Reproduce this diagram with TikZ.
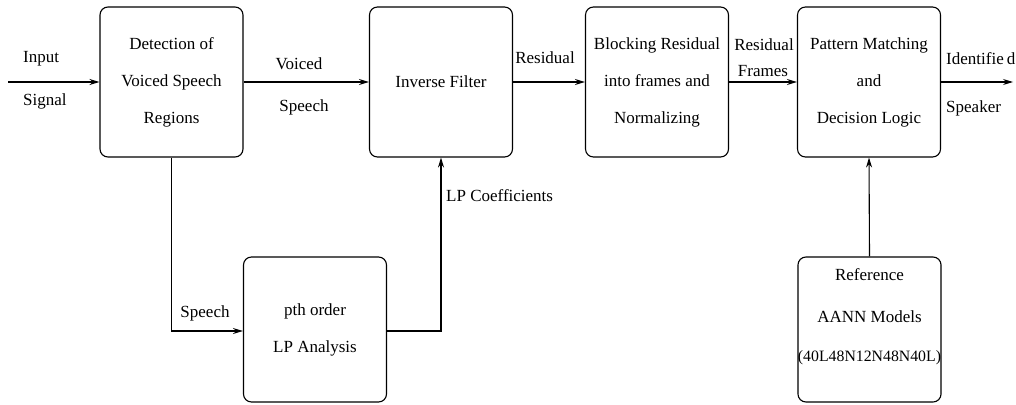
\documentclass[tikz,border=0pt]{standalone}
\usepackage{fontspec}
\setmainfont{Liberation Serif}
\usetikzlibrary{arrows.meta}
\begin{document}
\begin{tikzpicture}[x=1pt,y=-1pt,
  blk/.style={draw,line width=1.1pt,rounded corners=8pt,minimum width=143pt,align=center,inner sep=0pt,
    font=\fontsize{17}{37}\selectfont},
  lbl/.style={inner sep=0pt,font=\fontsize{17}{20}\selectfont},
  conn/.style={line width=1.1pt,-{Stealth[length=10pt,width=6pt]}},
  wire/.style={line width=1.1pt}]
\useasboundingbox (0,0) rectangle (1016,404);
\node[blk,minimum height=150pt] (det) at (171.5,82) {Detection of\\Voiced Speech\\Regions};
\node[blk,minimum height=150pt] (inv) at (441,82) {Inverse Filter};
\node[blk,minimum height=150pt] (blkr) at (657,82) {Blocking Residual\\into frames and\\Normalizing};
\node[blk,minimum height=150pt] (pat) at (869,82) {Pattern Matching\\and\\Decision Logic};
\node[blk,minimum height=145pt] (lpa) at (315,329.5) {pth order\\LP Analysis};
\node[blk,minimum height=145pt,font=\fontsize{17}{42}\selectfont] (ref) at (869.5,329.5) {Reference\\AANN Models\\[-3pt]{\fontsize{15.8}{18}\selectfont(40L48N12N48N40L)}\\[-25pt]\strut};
\coordinate (in) at (8,82);
\coordinate (out) at (1013,82);
\coordinate (c1) at (171.5,331);
\coordinate (c2) at (441,331);
\draw[conn] (in) -- (det.west);
\draw[conn] (det.east) -- (inv.west);
\draw[conn] (inv.east) -- (blkr.west);
\draw[conn] (blkr.east) -- (pat.west);
\draw[conn] (pat.east) -- (out);
\draw[conn] (det.south) -- (c1) -- (lpa.west |- c1);
\draw[conn] (lpa.east |- c2) -- (c2) -- (inv.south);
\draw[conn] (ref.north) -- (pat.south);
\node[lbl,anchor=west] (tin) at (23,59) {Input};
\node[lbl,anchor=west] (tsig) at (23,101) {Signal};
\node[lbl] (tvo) at (299,64) {Voiced};
\node[lbl] (tsp) at (304,107) {Speech};
\node[lbl] (tres) at (545,58) {Residual};
\node[lbl] (tres2) at (764,45) {Residual};
\node[lbl] (tfr) at (763,71) {Frames};
\node[lbl,anchor=west] (tid) at (946,59) {Identifie\hspace{3pt}d};
\node[lbl,anchor=west] (tspk) at (946,108) {Speaker};
\node[lbl] (tsp2) at (205,313) {Speech};
\node[lbl,anchor=west] (tlp) at (446,196) {LP Coefficients};
\end{tikzpicture}
\end{document}
